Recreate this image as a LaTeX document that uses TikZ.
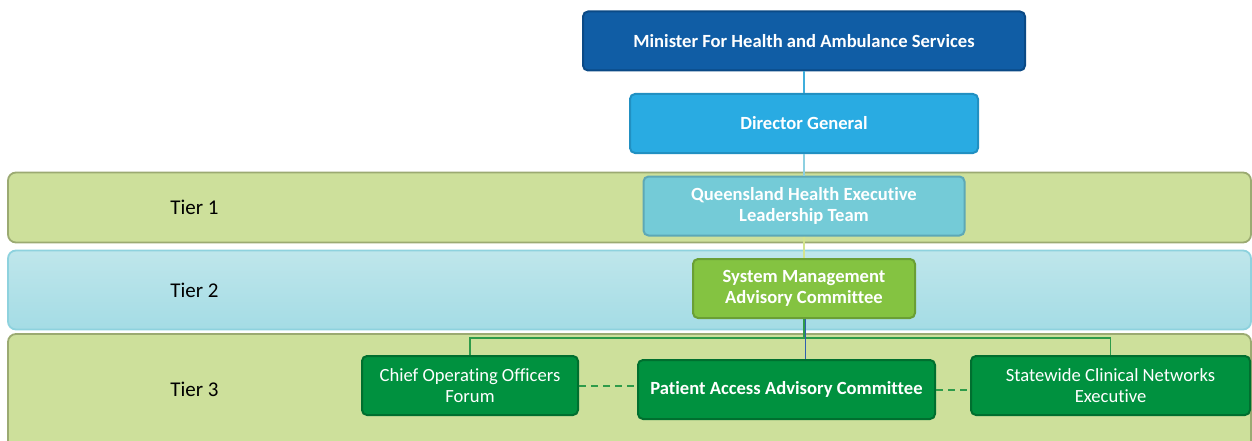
\documentclass[tikz,border=0pt]{standalone}
\usepackage{fontspec}
\setmainfont{Carlito}[Ligatures=NoCommon]
\usepackage{xcolor}
\usepackage{tikz}

\definecolor{ministerblue}{HTML}{105DA5}
\definecolor{ministerline}{HTML}{0B4A86}
\definecolor{dgblue}{HTML}{29ABE2}
\definecolor{dgline}{HTML}{2190C2}
\definecolor{execteal}{HTML}{74CBD7}
\definecolor{execline}{HTML}{5DA8B6}
\definecolor{smacgreen}{HTML}{84C341}
\definecolor{smacline}{HTML}{6A9F35}
\definecolor{committeegreen}{HTML}{00913F}
\definecolor{committeeline}{HTML}{006F2F}
\definecolor{bandgreen}{HTML}{CDE09B}
\definecolor{bandgreenline}{HTML}{9BAA72}
\definecolor{bandbluetop}{HTML}{BFE6EB}
\definecolor{bandbluebottom}{HTML}{A4DCE5}
\definecolor{bandblueline}{HTML}{8ED2DE}
\definecolor{linkblue}{HTML}{3FAEDC}
\definecolor{linkpale}{HTML}{8DD0E1}
\definecolor{linklime}{HTML}{D3E48F}
\definecolor{busgreen}{HTML}{2E9B4A}
\definecolor{busblue}{HTML}{2F5FB0}

\begin{document}
\begin{tikzpicture}[
    x=1pt, y=-1pt,
    font=\fontsize{18.6}{21.5}\selectfont,
    box/.style = {draw, rounded corners=5pt, line width=2pt, align=center, text=white, inner sep=2pt, minimum height=59pt},
    boldbox/.style = {box, font=\fontsize{18.6}{21.5}\selectfont\bfseries},
    band/.style = {draw, rounded corners=8pt, line width=1.8pt, minimum width=1243pt},
    tierlabel/.style = {font=\fontsize{21}{25}\selectfont, text=black},
    link/.style = {line width=1.5pt},
    peer/.style = {draw=busgreen, line width=2pt, dash pattern=on 7pt off 5pt}
]
    \useasboundingbox (0,0) rectangle (1252,441);

    % tier bands behind the chart
    \node[band, fill=bandgreen, draw=bandgreenline, minimum height=70pt] (tier1) at (629.5,207.5) {};
    \node[band, top color=bandbluetop, bottom color=bandbluebottom, draw=bandblueline, minimum height=79pt] (tier2) at (629.5,290) {};
    \node[band, fill=bandgreen, draw=bandgreenline, minimum height=116pt] (tier3) at (629.5,392) {};
    \node[tierlabel] (tier1label) at (194.5,207) {Tier 1};
    \node[tierlabel] (tier2label) at (194.5,290) {Tier 2};
    \node[tierlabel] (tier3label) at (194.5,389) {Tier 3};

    % chain of command
    \node[boldbox, fill=ministerblue, draw=ministerline, minimum width=442pt] (minister) at (804,41) {Minister For Health and Ambulance Services};
    \node[boldbox, fill=dgblue, draw=dgline, minimum width=348pt] (dg) at (804,123.5) {Director General};
    \node[boldbox, fill=execteal, draw=execline, minimum width=321pt] (qhelt) at (804,206) {Queensland Health Executive\\ Leadership Team};
    \node[boldbox, fill=smacgreen, draw=smacline, minimum width=222pt] (smac) at (804,288.5) {System Management\\ Advisory Committee};

    % tier 3 committees
    \node[box, fill=committeegreen, draw=committeeline, minimum width=216pt] (coo) at (470,385.5) {Chief Operating Officers\\ Forum};
    \node[boldbox, fill=committeegreen, draw=committeeline, minimum width=297pt] (paac) at (786.5,389.5) {Patient Access Advisory Committee};
    \node[box, fill=committeegreen, draw=committeeline, minimum width=279pt] (scne) at (1110.5,385.5) {Statewide Clinical Networks\\ Executive};

    \coordinate (bus) at (804,338);

    \draw[link, draw=linkblue] (minister) -- (dg);
    \draw[link, draw=linkpale] (dg) -- (qhelt);
    \draw[link, draw=linklime] (qhelt) -- (smac);
    \draw[link, draw=busgreen] (smac.south) -- (bus);
    \draw[link, draw=busgreen] (coo.north) |- (bus) -| (scne.north);
    \draw[link, draw=busblue] ([xshift=1.5pt]smac.south) -- ([xshift=1.5pt]smac.south |- paac.north);
    \draw[peer] (coo.east) -- (coo.east -| paac.west);
    \draw[peer] (paac.east) -- (paac.east -| scne.west);
\end{tikzpicture}
\end{document}
